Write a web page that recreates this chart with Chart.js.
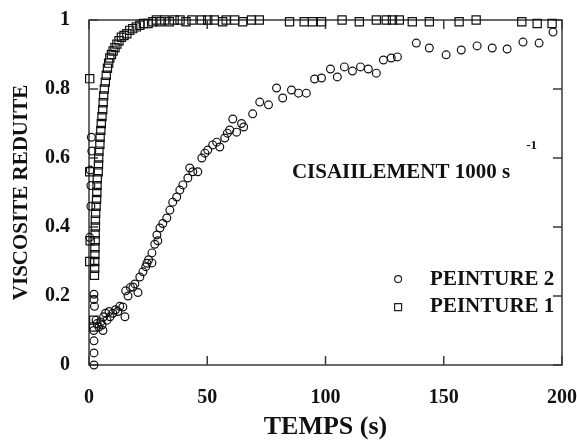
<!DOCTYPE html>
<html><head><meta charset="utf-8">
<script src="https://cdn.jsdelivr.net/npm/chart.js@4/dist/chart.umd.min.js"></script>
<style>html,body{margin:0;padding:0;background:#fff}#wrap{width:577px;height:441px}</style>
</head><body><div id="wrap"><canvas id="c" width="577" height="441"></canvas></div>
<script>
const xTicks = [0, 50, 100, 150, 200];
const yTicks = [0, 0.2, 0.4, 0.6, 0.8, 1];
const seriesNames = ['PEINTURE 2', 'PEINTURE 1'];
const xTitle = 'TEMPS (s)';
const yTitle = 'VISCOSITE REDUITE';
const annotationText = 'CISAIILEMENT 1000 s';
const annotationSup = '-1';

// PEINTURE 2 (circles)
const p2Time = [1.0,1.2,0.5,0.8,0.8,0.3,2.1,2.1,2.3,2.0,2.1,2.1,2.1,3.0,3.4,4.2,5.0,5.5,5.9,6.2,7.0,7.6,8.5,8.9,10.1,11.2,12.2,13.0,14.3,15.2,15.5,16.5,17.5,18.6,19.4,20.7,21.5,22.8,24.0,24.5,25.2,26.6,26.6,27.8,28.7,29.1,30.0,31.2,32.9,34.2,35.4,37.1,38.4,39.7,41.8,42.6,43.9,46.0,47.7,49.0,50.2,52.3,54.0,55.3,57.4,58.5,59.5,60.8,62.4,64.5,65.4,69.2,72.2,75.9,79.3,81.9,85.6,88.6,91.9,95.4,98.3,102.1,105,108,111.4,114.8,118.1,121.5,124.5,127.8,130.4,138.4,143.9,151,157.4,164.1,170.5,176.8,183.5,190.3,196.2];
const p2Visc = [0.66,0.62,0.565,0.52,0.46,0.37,0.205,0.19,0.17,0.10,0.07,0.035,0.0,0.13,0.12,0.11,0.125,0.116,0.10,0.14,0.15,0.13,0.155,0.14,0.15,0.16,0.155,0.17,0.168,0.14,0.215,0.20,0.225,0.226,0.235,0.21,0.255,0.27,0.285,0.295,0.305,0.296,0.325,0.35,0.377,0.36,0.397,0.41,0.426,0.449,0.472,0.487,0.507,0.522,0.542,0.571,0.56,0.56,0.60,0.614,0.623,0.638,0.646,0.632,0.658,0.672,0.681,0.713,0.675,0.70,0.69,0.728,0.762,0.754,0.803,0.774,0.797,0.788,0.788,0.829,0.832,0.858,0.835,0.864,0.852,0.864,0.858,0.846,0.884,0.89,0.893,0.933,0.919,0.899,0.913,0.925,0.919,0.916,0.936,0.933,0.965];

// PEINTURE 1 (squares)
const p1Time = [0.3,0.3,0.3,0.5,2.0,2.0,2.3,2.4,2.4,2.5,2.5,2.6,2.6,2.7,2.7,2.8,3.0,3.2,3.3,3.4,3.5,3.9,4.0,4.1,4.2,4.6,4.7,5.0,5.2,5.5,5.8,6.0,6.2,6.5,6.9,7.3,7.8,8.3,8.8,9.5,10.2,11.0,11.8,12.7,13.7,14.8,16.0,17.2,18.5,20.0,21.5,23.0,25.0,27.0,28.5,30.0,32.0,34.0,36.0,38.5,41.0,43.5,47.5,50.2,53.0,56.5,58.0,61.6,65.0,68.7,72.0,84.8,91.0,94.5,98.3,107,114.3,121.5,125.7,128.3,131.2,136.7,143.9,156.5,163.7,183.0,189.5,195.8];
const p1Visc = [0.56,0.83,0.30,0.36,0.11,0.13,0.26,0.28,0.30,0.32,0.34,0.36,0.38,0.40,0.42,0.44,0.46,0.48,0.50,0.52,0.54,0.56,0.58,0.60,0.62,0.64,0.66,0.68,0.70,0.72,0.74,0.76,0.78,0.80,0.82,0.84,0.86,0.875,0.89,0.90,0.91,0.92,0.93,0.94,0.95,0.955,0.96,0.97,0.975,0.98,0.985,0.99,0.99,0.995,1.0,0.995,1.0,0.995,1.0,1.0,0.995,1.0,1.0,1.0,1.0,0.995,1.0,1.0,0.995,1.0,1.0,0.995,0.995,0.995,0.995,1.0,0.995,1.0,1.0,1.0,1.0,0.995,0.995,0.995,1.0,0.995,0.99,0.99];

const SERIF = '"Liberation Serif", "Times New Roman", serif';
const toPts = (xs, ys) => xs.map((x, i) => ({x: x, y: ys[i]}));

const framePlugin = {
  id: 'frame',
  beforeDatasetsDraw(chart) {
    const {ctx, chartArea: a, scales: {x, y}} = chart;
    ctx.save();
    ctx.strokeStyle = '#3a3a3a';
    ctx.lineWidth = 1.5;
    ctx.strokeRect(a.left, a.top, a.right - a.left, a.bottom - a.top);
    const L = 9;
    ctx.beginPath();
    xTicks.forEach(v => {
      const px = x.getPixelForValue(v);
      ctx.moveTo(px, a.bottom); ctx.lineTo(px, a.bottom - L);
      ctx.moveTo(px, a.top); ctx.lineTo(px, a.top + L);
    });
    yTicks.forEach(v => {
      const py = y.getPixelForValue(v);
      ctx.moveTo(a.left, py); ctx.lineTo(a.left + L, py);
      ctx.moveTo(a.right, py); ctx.lineTo(a.right - L, py);
    });
    ctx.stroke();
    ctx.restore();
  },
  afterDraw(chart) {
    const {ctx, scales: {x, y}} = chart;
    ctx.save();
    ctx.fillStyle = '#111';
    ctx.font = 'bold 21px ' + SERIF;
    ctx.textBaseline = 'middle';
    ctx.textAlign = 'left';
    const ax = x.getPixelForValue(85.8), ay = y.getPixelForValue(0.559);
    ctx.fillText(annotationText, ax, ay);
    const w = ctx.measureText(annotationText).width;
    ctx.font = 'bold 13px ' + SERIF;
    ctx.fillText(annotationSup, ax + w + 16, ay - 27);
    const ds = chart.data.datasets;
    const lx = x.getPixelForValue(130.7);
    const rows = [0.249, 0.168];
    ds.forEach((d, i) => {
      const py = y.getPixelForValue(rows[i]);
      ctx.strokeStyle = '#222';
      ctx.lineWidth = 1.2;
      ctx.beginPath();
      if (d.pointStyle === 'circle') {
        ctx.arc(lx, py, 3.5, 0, Math.PI * 2);
      } else {
        ctx.rect(lx - 3.5, py - 3.5, 7, 7);
      }
      ctx.stroke();
      ctx.font = 'bold 21px ' + SERIF;
      ctx.fillStyle = '#111';
      ctx.fillText(d.label, lx + 32, py);
    });
    ctx.restore();
  }
};

new Chart(document.getElementById('c'), {
  type: 'scatter',
  data: {
    datasets: [
      {label: seriesNames[0], data: toPts(p2Time, p2Visc), pointStyle: 'circle', pointRadius: 3.9, pointBorderWidth: 1.2,
       borderColor: '#111', backgroundColor: 'rgba(0,0,0,0)', showLine: false, clip: false},
      {label: seriesNames[1], data: toPts(p1Time, p1Visc), pointStyle: 'rect', pointRadius: 5.8, pointBorderWidth: 1.2,
       borderColor: '#111', backgroundColor: 'rgba(0,0,0,0)', showLine: false, clip: false}
    ]
  },
  options: {
    responsive: false,
    animation: false,
    devicePixelRatio: 1,
    layout: {padding: {top: 20, right: 15, left: 0, bottom: 0}},
    plugins: {legend: {display: false}, tooltip: {enabled: false}},
    scales: {
      x: {
        type: 'linear', min: 0, max: 200,
        afterBuildTicks: s => { s.ticks = xTicks.map(v => ({value: v})); },
        afterFit: s => { s.height = 76; s.paddingLeft = 0; s.paddingRight = 0; },
        grid: {display: false, drawTicks: false},
        border: {display: false},
        ticks: {padding: 21, color: '#111', font: {family: SERIF, size: 20, weight: 'bold'}, maxRotation: 0},
        title: {display: true, text: xTitle, color: '#111', padding: {top: 0, bottom: 1}, font: {family: SERIF, size: 26, weight: 'bold', lineHeight: 1}}
      },
      y: {
        type: 'linear', min: 0, max: 1,
        afterBuildTicks: s => { s.ticks = yTicks.map(v => ({value: v})); },
        afterFit: s => { s.width = 89; s.paddingTop = 0; s.paddingBottom = 0; },
        grid: {display: false, drawTicks: false},
        border: {display: false},
        ticks: {padding: 19, color: '#111', font: {family: SERIF, size: 20, weight: 'bold'},
                callback: v => String(v)},
        title: {display: true, text: yTitle, color: '#111', padding: {top: 11, bottom: 0}, font: {family: SERIF, size: 21, weight: 'bold', lineHeight: 1}}
      }
    }
  },
  plugins: [framePlugin]
});
</script></body></html>
